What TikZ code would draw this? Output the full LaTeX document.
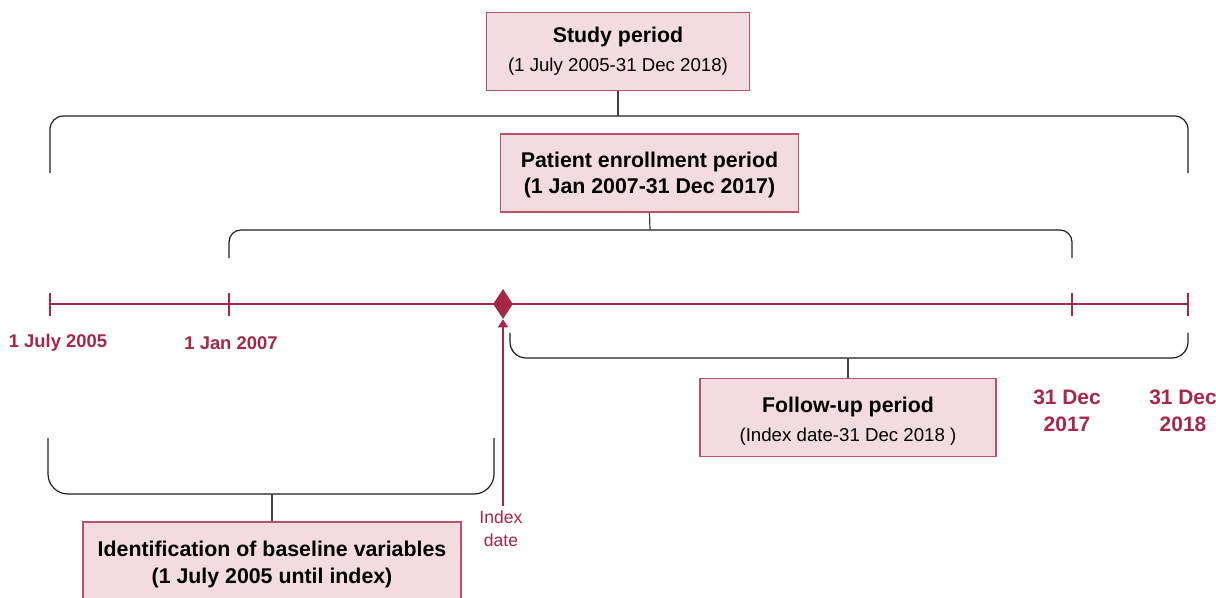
\documentclass[tikz,border=0pt]{standalone}
\usepackage{fontspec}
\setmainfont{Liberation Sans}
\usetikzlibrary{arrows.meta,shapes.geometric}
\definecolor{maroon}{RGB}{165,40,72}
\definecolor{blush}{RGB}{242,220,223}
\definecolor{rosewood}{RGB}{184,84,104}
\definecolor{ink}{RGB}{30,30,30}
\tikzset{
  period/.style={draw=rosewood,fill=blush,line width=0.9pt,align=center,
    inner sep=2pt,font=\fontsize{16}{20.5}\selectfont\bfseries},
  boxtext/.style={align=center,inner sep=0pt,font=\fontsize{16}{#1}\selectfont\bfseries},
  boxtext/.default=20.5,
  brace/.style={draw=ink,line width=0.9pt,rounded corners=#1},
  brace/.default=10pt,
  stub/.style={draw=ink!85,line width=0.9pt},
  axis/.style={draw=maroon,line width=2.2pt},
  datelbl/.style={text=maroon,align=center,font=\fontsize{13.8}{18}\selectfont\bfseries},
  enddate/.style={datelbl,font=\fontsize{15.7}{20}\selectfont\bfseries},
}
\newcommand{\subline}[1]{{\fontsize{14}{18}\selectfont\mdseries #1}}
\begin{document}
\begin{tikzpicture}[x=0.75pt,y=-0.75pt]
  \clip (0,0) rectangle (1216,598);
  % boxes
  \node[period,minimum width=197pt,minimum height=58pt] (study) at (618,51.5)
    {Study period\\[1pt]\subline{(1 July 2005-31 Dec 2018)}};
  \node[period,minimum width=223pt,minimum height=58.5pt] (enroll) at (649.5,173) {};
  \node[boxtext=19.5] (enrolltxt) at ([yshift=-1.5pt]enroll.center)
    {Patient enrollment period\\(1 Jan 2007-31 Dec 2017)};
  \node[period,minimum width=222pt,minimum height=59pt] (follow) at (848,417.5) {};
  \node[boxtext] (followtxt) at ([yshift=-3pt]follow.center)
    {Follow-up period\\[1pt]\subline{(Index date-31 Dec 2018 )}};
  \node[period,minimum width=283.5pt,minimum height=58.5pt] (base) at (272,561) {};
  \node[boxtext] (basetxt) at ([yshift=-2.6pt]base.center)
    {Identification of baseline variables\\(1 July 2005 until index)};

  % brackets
  \coordinate (studytop) at (618,116);
  \coordinate (enrolltop) at (650,230);
  \coordinate (followbot) at (848,358);
  \coordinate (basebot) at (272,494);
  \draw[brace=10pt] (50,173) |- (studytop) -| (1188,173);
  \draw[brace=9pt] (229,258) |- (enrolltop) -| (1072,258);
  \draw[brace=12pt] (510,333) |- (followbot) -| (1188,333);
  \draw[brace=15pt] (48,438) |- (basebot) -| (494,438);
  \draw[stub] (study.south) -- (studytop);
  \draw[stub] (enroll.south) -- (enrolltop);
  \draw[stub] (follow.north) -- (followbot);
  \draw[stub] (base.north) -- (basebot);

  % time line
  \coordinate (d2005) at (50,304);
  \coordinate (d2007) at (229,304);
  \coordinate (d2017) at (1072,304);
  \coordinate (d2018) at (1188,304);
  \draw[axis] (d2005) -- (d2018);
  \foreach \d in {d2005,d2007,d2017,d2018}
    \draw[axis] ([yshift=8.5pt]\d) -- ([yshift=-9pt]\d);
  \node[diamond,fill=maroon,inner sep=0pt,minimum width=15pt,minimum height=22.5pt] (idx) at (503,304) {};

  % dates
  \node[datelbl] (l2005) at (58,343) {1 July 2005};
  \node[datelbl] (l2007) at (231,343) {1 Jan 2007};
  \node[enddate] (l2017) at (1067,411) {31 Dec\\2017};
  \node[enddate] (l2018) at (1183,411) {31 Dec\\2018};
  \node[text=maroon,align=center,font=\fontsize{13.2}{17.5}\selectfont] (idxlbl) at (501,529) {Index\\date};
  \draw[draw=maroon,line width=1.1pt,-{Triangle[length=6pt,width=7.5pt]}] (idxlbl.north -| idx) -- (idx.south);
\end{tikzpicture}
\end{document}
